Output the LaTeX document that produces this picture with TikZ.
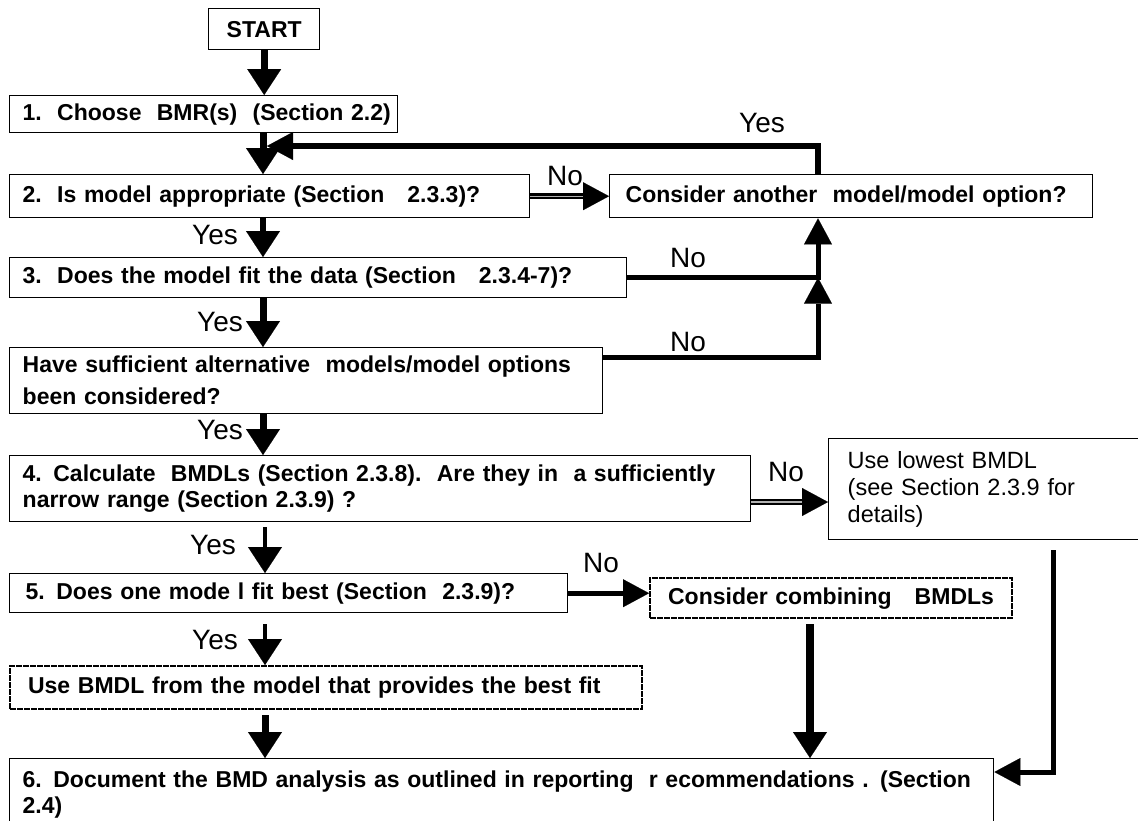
\documentclass[tikz,border=0pt]{standalone}
\usepackage{fontspec}
\setmainfont{Liberation Sans}
\usetikzlibrary{arrows.meta,calc}
\begin{document}
\begin{tikzpicture}[x=1pt,y=-1pt,
  box/.style={draw, line width=1.4pt, anchor=north west, inner xsep=13pt, inner ysep=0pt, align=left,
    font=\fontsize{23}{26}\selectfont\bfseries},
  dbox/.style={box, dash pattern=on 6pt off 1pt, line width=2.2pt},
  lab/.style={font=\fontsize{28}{30}\selectfont, inner sep=0pt},
  arr/.style={line width=#1, -{Triangle[length=26pt,width=34pt,line width=0.1pt]}},
  arr/.default=6pt,
  harr/.style={line width=#1, -{Triangle[length=26pt,width=28pt,line width=0.1pt]}},
  harr/.default=5pt,
  dl/.style={line width=2.4pt, double=gray!60, double distance=1.2pt},
]
\useasboundingbox (0,0) rectangle (1138,820);
\fill[white] (0,0) rectangle (1138,820);

% nodes
\node[box, text width=85pt, minimum height=41pt, align=center] (start) at (208,8) {START};
\node[box, text width=362pt, minimum height=37pt] (b1) at (9,95) {\mbox{1.\ \ Choose\ \ BMR(s)\ \ (Section 2.2)}};
\node[box, text width=494pt, minimum height=43pt] (b2) at (9,174) {\mbox{2.\ \ Is model appropriate (Section\ \ \ 2.3.3)?}};
\node[box, inner xsep=16pt, text width=451pt, minimum height=43pt] (cons) at (609,174) {\mbox{Consider another\ \ model/model option?}};
\node[box, text width=591pt, minimum height=40pt] (b3) at (9,257) {\mbox{3.\ \ Does the model fit the data (Section\ \ \ 2.3.4-7)?}};
\node[box, text width=567pt, minimum height=66pt] (b4) at (9,347) {\mbox{Have sufficient alternative\ \ models/model options}\\[6pt]\mbox{been considered?}};
\node[box, text width=715pt, minimum height=66pt] (b4c) at (9,455) {\mbox{4. Calculate\ \ BMDLs (Section 2.3.8).\ \ Are they in\ \ a sufficiently}\\\mbox{narrow range (Section 2.3.9) ?}};
\node[box, font=\fontsize{23.5}{27}\selectfont, inner xsep=19pt, text width=292pt, minimum height=101pt] (low) at (828,438) {\mbox{Use lowest BMDL}\\\mbox{(see Section 2.3.9 for}\\\mbox{details)}};
\node[box, inner xsep=16pt, text width=526pt, minimum height=39pt] (b5) at (9,573) {\mbox{5. Does one mode l fit best (Section\ \ 2.3.9)?}};
\node[dbox, inner xsep=18pt, text width=326pt, minimum height=40pt] (comb) at (649,577) {\mbox{Consider combining\ \ \ BMDLs}};
\node[dbox, inner xsep=18pt, text width=596pt, minimum height=43pt] (use) at (9,665) {\mbox{Use BMDL from the model that provides the best fit}};
\node[box, text width=958pt, minimum height=72pt] (b6) at (9,758) {\mbox{6. Document the BMD analysis as outlined in reporting\ \ r ecommendations . (Section}\\\mbox{2.4)}};

% labels
\node[lab] (yes0) at (762,123) {Yes};
\node[lab] (no1) at (565,176) {No};
\node[lab] (yes1) at (215,235) {Yes};
\node[lab] (no2) at (688,258) {No};
\node[lab] (yes2) at (220,322) {Yes};
\node[lab] (no3) at (688,342) {No};
\node[lab] (yes3) at (220,430) {Yes};
\node[lab] (no4) at (786,472) {No};
\node[lab] (yes4) at (213,545) {Yes};
\node[lab] (no5) at (601,563) {No};
\node[lab] (yes5) at (215,640) {Yes};

% helper coordinates
\coordinate (colA) at (263,0);
\coordinate (colB) at (265,0);
\coordinate (rc) at (818,0);
\coordinate (ytip) at (267,146);
\coordinate (y502) at (0,502);
\coordinate (c810) at (810,0);
\coordinate (c1053) at (1053,772);

% main column
\draw[arr=7pt] (start.south) -- (b1.north -| start.south);
\draw[arr=7pt] (b1.south -| colA) -- (b2.north -| colA);
\draw[arr=6pt] (b2.south -| colA) -- (b3.north -| colA);
\draw[arr=7pt] (b3.south -| colA) -- (b4.north -| colA);
\draw[arr=7pt] (b4.south -| colA) -- (b4c.north -| colA);
\draw[arr=4pt, shorten <=5pt] (b4c.south -| colB) -- (b5.north -| colB);
\draw[arr=4pt, shorten <=11pt] (b5.south -| colB) -- (use.north -| colB);
\draw[arr=7pt, shorten <=5pt] (use.south -| colB) -- (b6.north -| colB);

% loop back (Yes)
\draw[harr=5.5pt] (cons.north -| rc) |- (ytip);

% No branches
\draw[dl, shorten >=24pt] (b2.east) -- (cons.west);
\draw[harr=1pt] ($(cons.west)+(-26,0)$) -- (cons.west);
\draw[harr=5pt] (b3.east) -| (cons.south -| rc);
\draw[harr=5pt] ($(b4.north east)+(0,10)$) -| (b3.east -| rc);
\draw[dl, shorten >=24pt] (b4c.east |- y502) -- (low.west |- y502);
\draw[harr=1pt] ($(low.west |- y502)+(-25,0)$) -- (low.west |- y502);
\draw[harr=5pt] (b5.east) -- (b5.east -| comb.west);

% to final box
\draw[arr=8pt, shorten <=5pt] (comb.south -| c810) -- (b6.north -| c810);
\draw[harr=5pt, shorten <=10pt] (low.south -| c1053) |- (b6.east |- c1053);
\end{tikzpicture}
\end{document}
